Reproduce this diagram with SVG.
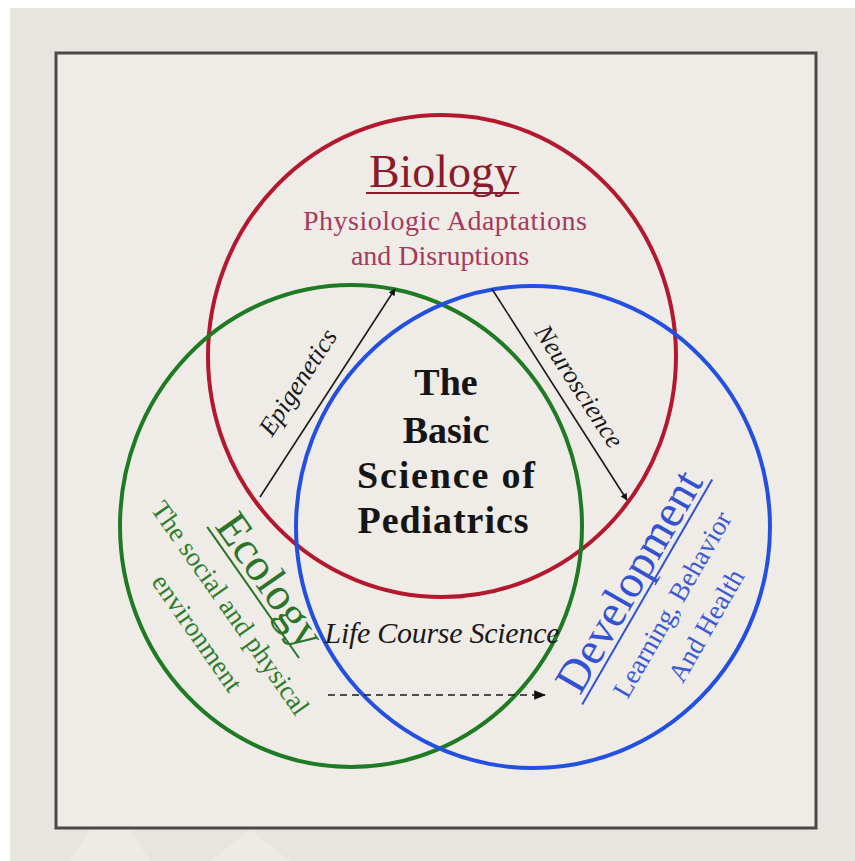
<svg xmlns="http://www.w3.org/2000/svg" width="855" height="861" viewBox="0 0 855 861">
<defs>
<marker id="ah" viewBox="0 0 10 10" refX="9" refY="5" markerWidth="7" markerHeight="7" markerUnits="userSpaceOnUse" orient="auto">
<path d="M0,0 L10,5 L0,10 z" fill="#111"/>
</marker>
<marker id="ah2" viewBox="0 0 10 10" refX="9" refY="5" markerWidth="12" markerHeight="12" markerUnits="userSpaceOnUse" orient="auto">
<path d="M0,1 L10,5 L0,9 z" fill="#111"/>
</marker>
<style>
.serif{font-family:"Liberation Serif","DejaVu Serif",serif;}
.ring{fill:none;stroke-width:4;}
.conn{stroke:#1a1a1a;stroke-width:1.6;fill:none;}
.it{font-style:italic;fill:#1a1a1a;}
.eco{fill:#2d7d2d;}
.dev{fill:#3a5ad6;}
.bio{fill:#a63a5c;}
</style>
</defs>
<rect x="0" y="0" width="855" height="861" fill="#ffffff"/>
<rect x="10" y="8" width="845" height="853" fill="#e8e5e0"/>
<path d="M70,861 L110,800 L150,861 z" fill="#eeebe6"/>
<path d="M210,861 L250,830 L290,861 z" fill="#eeebe6"/>
<rect x="56" y="53" width="760" height="775" fill="#efebe6" stroke="#4a4846" stroke-width="3"/>

<g id="biology">
<ellipse class="ring" cx="442" cy="356" rx="234" ry="241" stroke="#b3182f"/>
<text class="serif" x="443" y="187" font-size="46" text-anchor="middle" fill="#8a1a2c">Biology</text>
<line x1="366" y1="193" x2="519" y2="193" stroke="#8a1a2c" stroke-width="2"/>
<text class="serif bio" x="445" y="230" font-size="28" text-anchor="middle" textLength="284">Physiologic Adaptations</text>
<text class="serif bio" x="440" y="265" font-size="28" text-anchor="middle">and Disruptions</text>
</g>

<g id="ecology">
<ellipse class="ring" cx="351" cy="526" rx="231" ry="241" stroke="#1f7a24"/>
<g transform="translate(258,589) rotate(55)">
<text class="serif" x="0" y="0" font-size="46" text-anchor="middle" fill="#2a752a">Ecology</text>
<line x1="-80" y1="6" x2="80" y2="6" stroke="#2a752a" stroke-width="2"/>
</g>
<g transform="translate(223,613) rotate(55)">
<text class="serif eco" x="0" y="0" font-size="27" text-anchor="middle">The social and physical</text>
</g>
<g transform="translate(190,638) rotate(55)">
<text class="serif eco" x="0" y="0" font-size="27" text-anchor="middle">environment</text>
</g>
</g>

<g id="development">
<ellipse class="ring" cx="533" cy="527" rx="237" ry="241" stroke="#2350e0"/>
<g transform="translate(642,589) rotate(-60)">
<text class="serif" x="0" y="0" font-size="46" text-anchor="middle" fill="#3352d2">Development</text>
<line x1="-130" y1="6" x2="130" y2="6" stroke="#3352d2" stroke-width="2"/>
</g>
<g transform="translate(680,609) rotate(-60)">
<text class="serif dev" x="0" y="0" font-size="27" text-anchor="middle">Learning, Behavior</text>
</g>
<g transform="translate(714,630) rotate(-60)">
<text class="serif dev" x="0" y="0" font-size="27" text-anchor="middle">And Health</text>
</g>
</g>

<g id="center">
<text class="serif" x="446" y="395" font-size="38" font-weight="bold" text-anchor="middle" fill="#151515">The</text>
<text class="serif" x="446" y="443" font-size="38" font-weight="bold" text-anchor="middle" fill="#151515">Basic</text>
<text class="serif" x="446" y="488" font-size="38" font-weight="bold" text-anchor="middle" fill="#151515" textLength="178">Science of</text>
<text class="serif" x="443" y="533" font-size="38" font-weight="bold" text-anchor="middle" fill="#151515" textLength="171">Pediatrics</text>
</g>

<g id="connectors">
<line class="conn" x1="260" y1="497" x2="395" y2="289" marker-end="url(#ah)"/>
<line class="conn" x1="492" y1="289" x2="627" y2="500" marker-end="url(#ah)"/>
<line class="conn" x1="328" y1="695" x2="545" y2="695" stroke-dasharray="7,5" stroke-width="2" marker-end="url(#ah2)"/>
<g transform="translate(305,387) rotate(-57)">
<text class="serif it" x="0" y="0" font-size="26" text-anchor="middle">Epigenetics</text>
</g>
<g transform="translate(572,391) rotate(57)">
<text class="serif it" x="0" y="0" font-size="26" text-anchor="middle">Neuroscience</text>
</g>
<text class="serif it" x="442" y="643" font-size="30" text-anchor="middle" textLength="235">Life Course Science</text>
</g>
</svg>
